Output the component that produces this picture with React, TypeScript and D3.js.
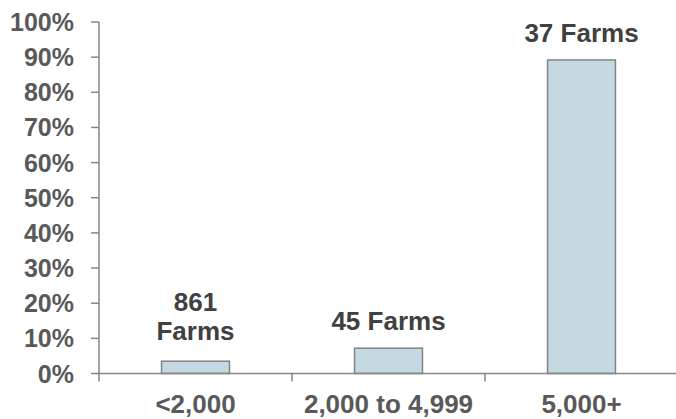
import * as d3 from 'd3';
import { useMemo } from 'react';

// chart data
const categories = ['<2,000', '2,000 to 4,999', '5,000+'];
const shares = [0.035, 0.072, 0.892];
const farmLabels = [['861', 'Farms'], ['45 Farms'], ['37 Farms']];
const yTicks = [0, 0.1, 0.2, 0.3, 0.4, 0.5, 0.6, 0.7, 0.8, 0.9, 1];

const width = 676;
const height = 419;
const margin = { top: 22, right: -2, bottom: 45, left: 99 };

const axisColor = '#868686';
const tickText = '#595959';
const labelText = '#404040';
const font = '"Liberation Sans", Arial, sans-serif';

export default function App() {
  const xScale = useMemo(
    () =>
      d3
        .scaleBand<string>()
        .domain(categories)
        .range([margin.left, width - margin.right])
        .padding(0),
    []
  );

  const yScale = useMemo(
    () =>
      d3
        .scaleLinear()
        .domain([0, 1])
        .range([height - margin.bottom - 0.5, margin.top]),
    []
  );

  const barWidth = xScale.bandwidth() * 0.352;
  const y0 = yScale(0);

  return (
    <svg
      width={width}
      height={height}
      style={{ position: 'absolute', left: 0, top: 0, fontFamily: font }}
    >
      {/* bars */}
      {categories.map((c, i) => {
        const cx = (xScale(c) ?? 0) + xScale.bandwidth() / 2;
        const top = yScale(shares[i]);
        return (
          <rect
            key={c}
            x={cx - barWidth / 2}
            y={top}
            width={barWidth}
            height={y0 - top}
            fill='#c4d9e1'
            stroke='#838383'
            strokeWidth={1.5}
          />
        );
      })}

      {/* y axis */}
      <line x1={margin.left} x2={margin.left} y1={yScale(1)} y2={y0} stroke={axisColor} strokeWidth={1.5} />
      {yTicks.map((t) => (
        <g key={t} transform={`translate(0,${yScale(t)})`}>
          <line x1={margin.left - 8} x2={margin.left} stroke={axisColor} strokeWidth={1.5} />
          <text
            x={margin.left - 25}
            dy='0.36em'
            textAnchor='end'
            fontSize={25}
            fontWeight='bold'
            fill={tickText}
          >
            {d3.format('.0%')(t)}
          </text>
        </g>
      ))}

      {/* x axis */}
      <line x1={margin.left} x2={width} y1={y0} y2={y0} stroke={axisColor} strokeWidth={1.5} />
      {categories.map((c) => (
        <line
          key={c}
          x1={xScale(c)}
          x2={xScale(c)}
          y1={y0}
          y2={y0 + 8}
          stroke={axisColor}
          strokeWidth={1.5}
        />
      ))}
      {categories.map((c) => (
        <text
          key={c}
          x={(xScale(c) ?? 0) + xScale.bandwidth() / 2}
          y={y0 + 39}
          textAnchor='middle'
          fontSize={26}
          fontWeight='bold'
          fill={tickText}
        >
          {c}
        </text>
      ))}

      {/* data labels */}
      {categories.map((c, i) => {
        const cx = (xScale(c) ?? 0) + xScale.bandwidth() / 2;
        const lines = farmLabels[i];
        const base = yScale(shares[i]) - (lines.length > 1 ? 21 : 18);
        return (
          <g key={c}>
            {lines.map((l, j) => (
              <text
                key={j}
                x={cx}
                y={base - (lines.length - 1 - j) * 29}
                textAnchor='middle'
                fontSize={26}
                fontWeight='bold'
                fill={labelText}
              >
                {l}
              </text>
            ))}
          </g>
        );
      })}
    </svg>
  );
}
